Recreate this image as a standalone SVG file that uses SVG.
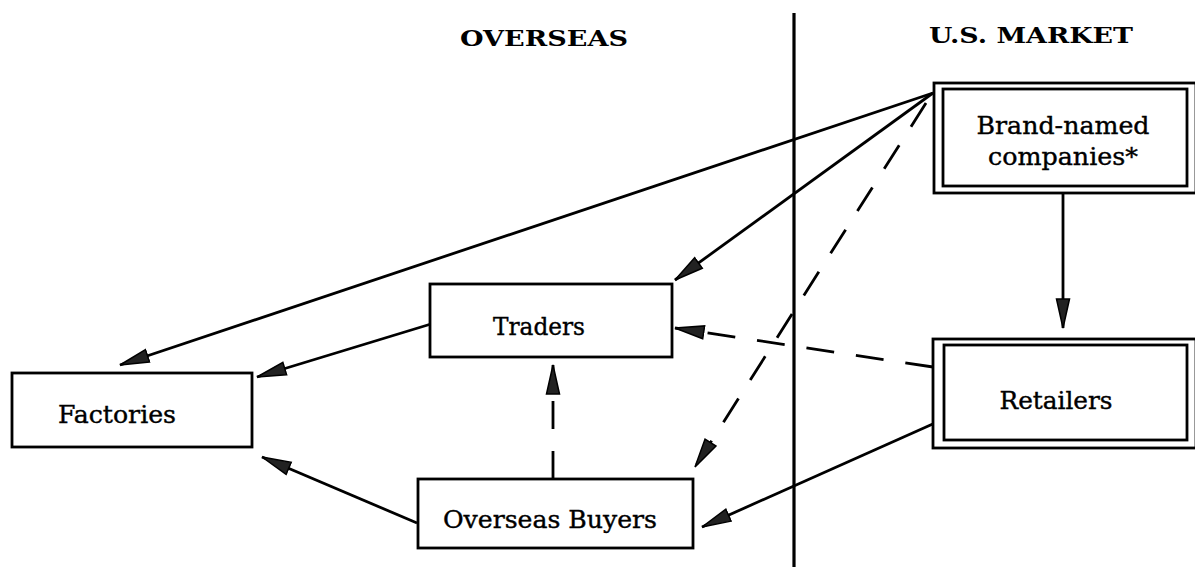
<svg xmlns="http://www.w3.org/2000/svg" width="1195" height="567" viewBox="0 0 1195 567">
<style>
.box{fill:#fff;stroke:#000;stroke-width:2.8}
.inner{fill:none;stroke:#000;stroke-width:2.8}
.lbl{font-family:"DejaVu Serif","Liberation Serif",serif;font-size:25px;fill:#000;stroke:#000;stroke-width:0.4;text-anchor:middle}
.hdr{font-family:"DejaVu Serif","Liberation Serif",serif;font-size:22px;font-weight:bold;fill:#000;text-anchor:middle}
.conn{fill:none;stroke:#000;stroke-width:2.8}
.dash{stroke-dasharray:28 22}
</style>
<defs>
<marker id="arr" markerUnits="userSpaceOnUse" viewBox="0 0 32 16" refX="30" refY="8" markerWidth="32" markerHeight="16" orient="auto">
<path d="M1,1.5 L30,8 L1,14.5 z" fill="#222" stroke="#000" stroke-width="1.5" stroke-dasharray="none"/>
</marker>
</defs>
<g id="headers">
<text class="hdr" x="544" y="46" textLength="168" lengthAdjust="spacingAndGlyphs">OVERSEAS</text>
<text class="hdr" x="1031" y="43" textLength="204" lengthAdjust="spacingAndGlyphs">U.S. MARKET</text>
</g>
<g id="divider">
<line x1="794" y1="13" x2="794" y2="567" stroke="#000" stroke-width="3.2"/>
</g>
<g id="connectors">
<line class="conn" x1="933" y1="93" x2="120" y2="365" marker-end="url(#arr)"/>
<line class="conn" x1="933" y1="93" x2="675" y2="280" marker-end="url(#arr)"/>
<line class="conn dash" x1="926" y1="103" x2="695" y2="467" marker-end="url(#arr)"/>
<line class="conn" x1="431" y1="324" x2="257" y2="377" marker-end="url(#arr)"/>
<line class="conn" x1="417" y1="523" x2="262" y2="457" marker-end="url(#arr)"/>
<line class="conn dash" x1="553" y1="479" x2="553" y2="365" marker-end="url(#arr)"/>
<line class="conn dash" x1="933" y1="367" x2="675" y2="328" marker-end="url(#arr)"/>
<line class="conn" x1="935" y1="423" x2="702" y2="527" marker-end="url(#arr)"/>
<line class="conn" x1="1063" y1="193" x2="1063" y2="328" marker-end="url(#arr)"/>
</g>
<g id="brand">
<rect class="box" x="934" y="83" width="262" height="110"/>
<rect class="inner" x="943" y="89" width="244" height="97"/>
<text class="lbl" x="1063" y="134" textLength="173" lengthAdjust="spacingAndGlyphs">Brand-named</text>
<text class="lbl" x="1063" y="165" textLength="150" lengthAdjust="spacingAndGlyphs">companies*</text>
</g>
<g id="retailers">
<rect class="box" x="933" y="339" width="263" height="109"/>
<rect class="inner" x="944" y="345" width="243" height="95"/>
<text class="lbl" x="1056" y="409" textLength="113" lengthAdjust="spacingAndGlyphs">Retailers</text>
</g>
<g id="factories">
<rect class="box" x="12" y="373" width="240" height="74"/>
<text class="lbl" x="117" y="423" textLength="118" lengthAdjust="spacingAndGlyphs">Factories</text>
</g>
<g id="traders">
<rect class="box" x="430" y="284" width="242" height="73"/>
<text class="lbl" x="539" y="335" textLength="92" lengthAdjust="spacingAndGlyphs">Traders</text>
</g>
<g id="buyers">
<rect class="box" x="418" y="479" width="275" height="69"/>
<text class="lbl" x="550" y="528" textLength="214" lengthAdjust="spacingAndGlyphs">Overseas Buyers</text>
</g>
</svg>
